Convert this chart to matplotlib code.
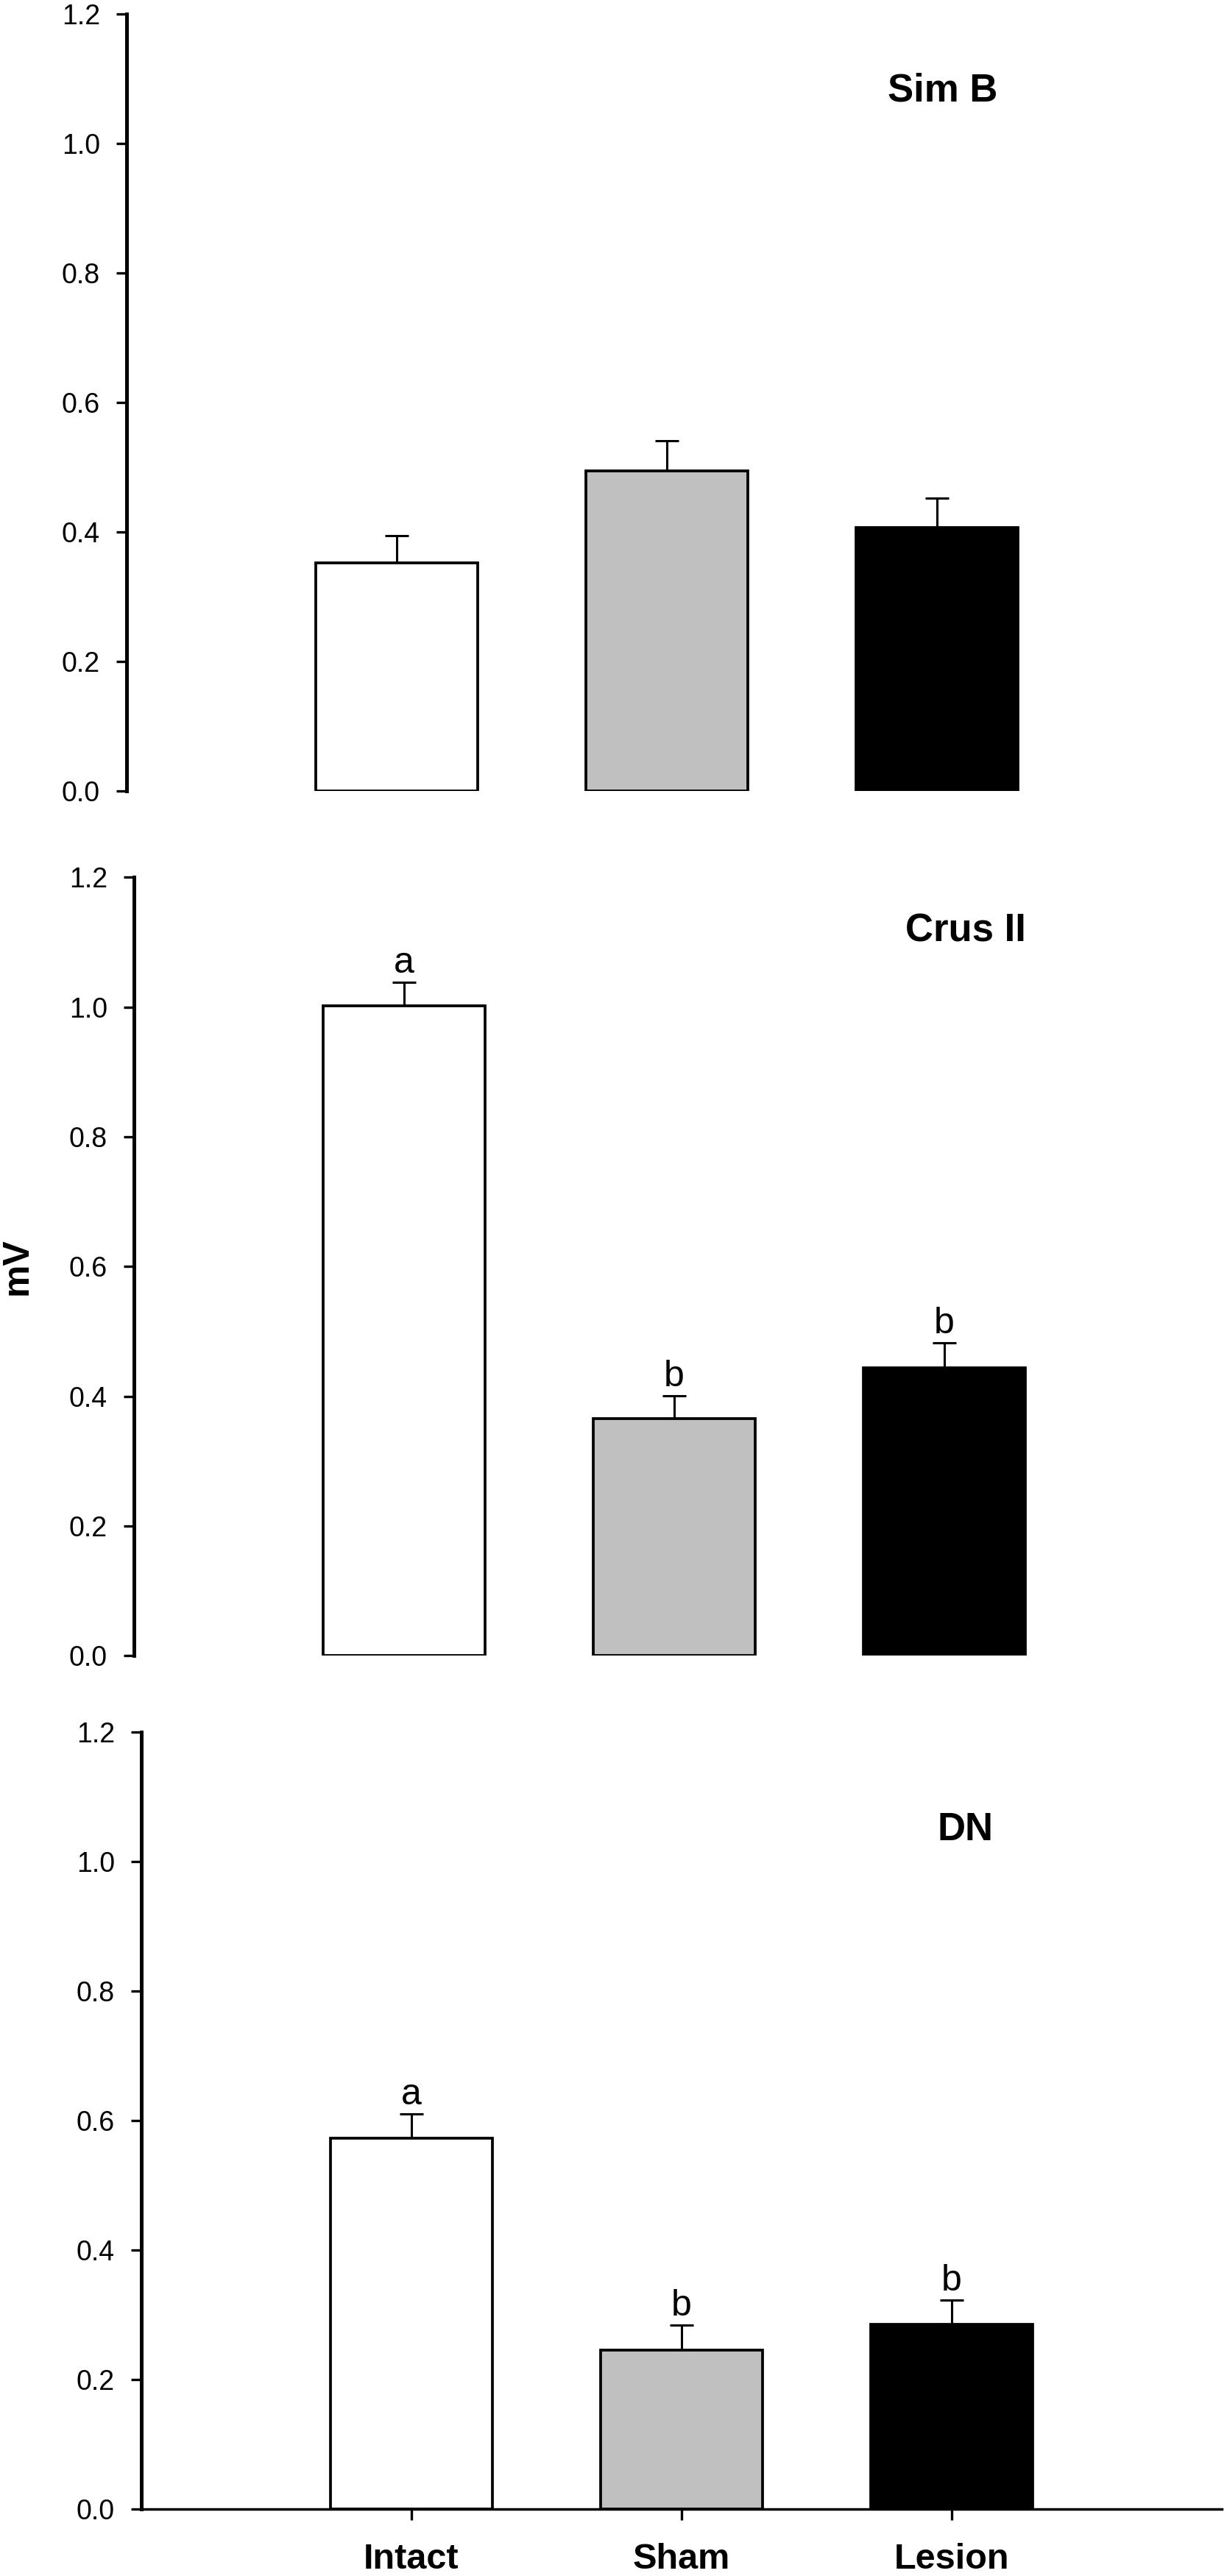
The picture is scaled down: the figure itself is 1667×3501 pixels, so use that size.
import matplotlib
matplotlib.use("Agg")
import matplotlib.pyplot as plt

plt.rcParams['font.family'] = ['Liberation Sans', 'DejaVu Sans']

groups = ["Intact", "Sham", "Lesion"]
colors = ["white", "#c0c0c0", "black"]

regions = ["Sim B", "Crus II", "DN"]
means = [
    [0.352, 0.494, 0.407],
    [1.002, 0.365, 0.444],
    [0.572, 0.245, 0.285],
]
errors = [
    [0.042, 0.047, 0.046],
    [0.036, 0.036, 0.038],
    [0.038, 0.039, 0.038],
]
letters = [
    ["", "", ""],
    ["a", "b", "b"],
    ["a", "b", "b"],
]

# panel boxes in figure fraction (left, bottom, width, height)
boxes = [
    [0.1032, 0.6929, 0.8806, 0.3016],
    [0.1092, 0.3573, 0.8806, 0.3021],
    [0.1152, 0.0260, 0.8806, 0.3017],
]
title_pos = [(2.02, 1.066), (2.08, 1.101), (2.05, 1.033)]

fig = plt.figure(figsize=(16.67, 35.01), dpi=100)

x = list(range(len(groups)))
for i in range(3):
    ax = fig.add_axes(boxes[i])
    ax.bar(x, means[i], width=0.6, color=colors, edgecolor="black", linewidth=2.7, zorder=2)
    ax.errorbar(x, means[i], yerr=[[0, 0, 0], errors[i]], fmt="none", ecolor="black",
                elinewidth=2.2, capsize=11.5, capthick=2.2, zorder=1)
    for j in x:
        if letters[i][j]:
            ax.annotate(letters[i][j], (j, means[i][j] + errors[i][j]), xytext=(0, 2),
                        textcoords="offset points", ha="center", va="bottom", fontsize=36)
    ax.text(title_pos[i][0], title_pos[i][1], regions[i], ha="center", va="baseline",
            fontsize=38, fontweight="bold")

    ax.set_xlim(-1, 3)
    ax.set_ylim(0, 1.2)
    ax.set_yticks([0.0, 0.2, 0.4, 0.6, 0.8, 1.0, 1.2])
    ax.set_yticklabels(["0.0", "0.2", "0.4", "0.6", "0.8", "1.0", "1.2"])
    for s in ["top", "right"]:
        ax.spines[s].set_visible(False)
    ax.spines["left"].set_linewidth(3.6)
    ax.tick_params(axis="y", direction="out", length=10, width=2.4, pad=16, labelsize=27)
    if i < 2:
        ax.spines["bottom"].set_visible(False)
        ax.set_xticks([])
    else:
        ax.spines["bottom"].set_linewidth(2.5)
        ax.set_xticks(x)
        ax.set_xticklabels(groups, fontsize=35, fontweight="bold")
        ax.tick_params(axis="x", direction="out", length=11, width=2.4, pad=22)

fig.text(0.0141, 0.5084, "mV", rotation=90, ha="center", va="center",
         fontsize=36, fontweight="bold")

fig.savefig("out.png", dpi=100)
